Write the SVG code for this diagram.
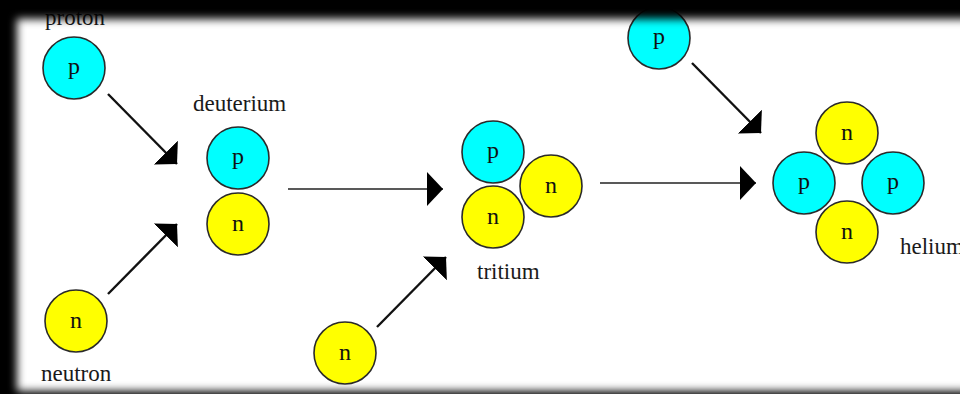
<svg xmlns="http://www.w3.org/2000/svg" width="960" height="394" viewBox="0 0 960 394">
  <style>
    .p { fill: #00ffff; stroke: #2a2a2a; stroke-width: 1.6; }
    .n { fill: #ffff00; stroke: #2a2a2a; stroke-width: 1.6; }
    .sym { font-family: Liberation Serif; font-size: 24px; fill: #111; text-anchor: middle; }
    .lbl { font-family: Liberation Serif; font-size: 23px; fill: #1a1a1a; }
    .diag { stroke: #111; stroke-width: 2.4; fill: none; marker-end: url(#head); }
    .flat { stroke: #222; stroke-width: 1.5; fill: none; marker-end: url(#head); }
  </style>
  <defs>
    <marker id="head" viewBox="0 0 16 34" refX="16" refY="17" markerWidth="16" markerHeight="34" markerUnits="userSpaceOnUse" orient="auto">
      <path d="M0,0 L16,17 L0,34 Z" fill="#000"/>
    </marker>
    <filter id="soft" filterUnits="userSpaceOnUse" x="-50" y="-50" width="1100" height="500">
      <feGaussianBlur stdDeviation="4.5"/>
    </filter>
    <mask id="frame-mask" maskUnits="userSpaceOnUse" x="0" y="0" width="960" height="394">
      <rect width="960" height="394" fill="#fff"/>
      <rect x="17" y="19" width="953" height="372" fill="#000" filter="url(#soft)"/>
    </mask>
  </defs>

  <rect width="960" height="394" fill="#fff"/>

  <!-- connectors -->
  <g id="connectors">
    <line class="diag" x1="108" y1="94" x2="177" y2="164"/>
    <line class="diag" x1="108" y1="294" x2="177" y2="224"/>
    <line class="flat" x1="288" y1="189" x2="443" y2="189"/>
    <line class="diag" x1="377" y1="327" x2="446" y2="257"/>
    <line class="flat" x1="600" y1="183" x2="756" y2="183"/>
    <line class="diag" x1="692" y1="63" x2="761" y2="133"/>
  </g>

  <g id="proton-in">
    <circle class="p" cx="74" cy="68" r="31"/>
    <text class="sym" x="74" y="74">p</text>
    <text class="lbl" x="45" y="25">proton</text>
  </g>

  <g id="neutron-in">
    <circle class="n" cx="76" cy="321" r="31"/>
    <text class="sym" x="76" y="328">n</text>
    <text class="lbl" x="41" y="381">neutron</text>
  </g>

  <g id="deuterium">
    <text class="lbl" x="193" y="111">deuterium</text>
    <circle class="p" cx="238" cy="158" r="31"/>
    <text class="sym" x="238" y="164">p</text>
    <circle class="n" cx="238" cy="224" r="31"/>
    <text class="sym" x="238" y="231">n</text>
  </g>

  <g id="neutron-in-2">
    <circle class="n" cx="345" cy="353" r="31"/>
    <text class="sym" x="345" y="360">n</text>
  </g>

  <g id="tritium">
    <circle class="p" cx="493" cy="152" r="31"/>
    <text class="sym" x="493" y="158">p</text>
    <circle class="n" cx="551" cy="186" r="31"/>
    <text class="sym" x="551" y="193">n</text>
    <circle class="n" cx="493" cy="217" r="31"/>
    <text class="sym" x="493" y="224">n</text>
    <text class="lbl" x="477" y="279">tritium</text>
  </g>

  <g id="proton-in-2">
    <circle class="p" cx="659" cy="38" r="31"/>
    <text class="sym" x="659" y="44">p</text>
  </g>

  <g id="helium">
    <circle class="n" cx="847" cy="133" r="31"/>
    <text class="sym" x="847" y="140">n</text>
    <circle class="p" cx="804" cy="183" r="31"/>
    <text class="sym" x="804" y="189">p</text>
    <circle class="p" cx="893" cy="183" r="31"/>
    <text class="sym" x="893" y="189">p</text>
    <circle class="n" cx="847" cy="232" r="31"/>
    <text class="sym" x="847" y="239">n</text>
    <text class="lbl" x="900" y="254">helium</text>
  </g>

  <!-- dark soft-edged frame -->
  <rect width="960" height="394" fill="#000" mask="url(#frame-mask)"/>
</svg>
